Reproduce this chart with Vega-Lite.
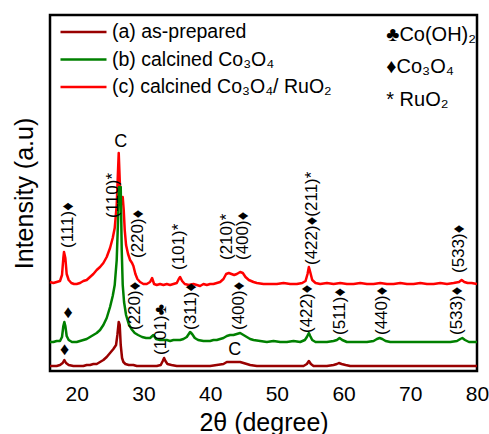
{
  "$schema": "https://vega.github.io/schema/vega-lite/v6.json",
  "width": 427,
  "height": 356,
  "autosize": {"type": "none"},
  "padding": {"left": 50, "top": 15, "right": 12, "bottom": 63},
  "background": "white",
  "config": {
    "view": {"stroke": "black", "strokeWidth": 2.5},
    "font": "Liberation Sans",
    "text": {"font": "Liberation Sans", "color": "black"}
  },
  "datasets": {
    "curves": [
      {"s":"c","x":16.0,"y":88},{"s":"c","x":16.5,"y":87},{"s":"c","x":17.0,"y":88},{"s":"c","x":17.5,"y":89},{"s":"c","x":17.8,"y":95},{"s":"c","x":18.0,"y":112},{"s":"c","x":18.1,"y":118},{"s":"c","x":18.3,"y":112},{"s":"c","x":18.5,"y":96},{"s":"c","x":18.8,"y":90},{"s":"c","x":19.2,"y":87},{"s":"c","x":19.6,"y":86},{"s":"c","x":20.0,"y":86},{"s":"c","x":20.5,"y":87},{"s":"c","x":21.0,"y":89},{"s":"c","x":21.5,"y":90},{"s":"c","x":22.0,"y":93},{"s":"c","x":22.5,"y":96},{"s":"c","x":23.0,"y":100},{"s":"c","x":23.5,"y":103},{"s":"c","x":24.0,"y":107},{"s":"c","x":24.5,"y":113},{"s":"c","x":25.0,"y":122},{"s":"c","x":25.4,"y":132},{"s":"c","x":25.7,"y":142},{"s":"c","x":26.0,"y":165},{"s":"c","x":26.2,"y":200},{"s":"c","x":26.3,"y":217},{"s":"c","x":26.45,"y":190},{"s":"c","x":26.6,"y":165},{"s":"c","x":26.75,"y":170},{"s":"c","x":26.9,"y":173},{"s":"c","x":27.05,"y":160},{"s":"c","x":27.2,"y":140},{"s":"c","x":27.4,"y":125},{"s":"c","x":27.7,"y":116},{"s":"c","x":28.0,"y":110},{"s":"c","x":28.3,"y":107},{"s":"c","x":28.5,"y":104},{"s":"c","x":28.8,"y":96},{"s":"c","x":29.1,"y":91},{"s":"c","x":29.5,"y":88},{"s":"c","x":30.0,"y":86},{"s":"c","x":30.5,"y":86},{"s":"c","x":31.0,"y":88},{"s":"c","x":31.3,"y":92},{"s":"c","x":31.6,"y":86},{"s":"c","x":32.0,"y":85},{"s":"c","x":32.5,"y":86},{"s":"c","x":33.0,"y":85},{"s":"c","x":33.5,"y":86},{"s":"c","x":34.0,"y":85},{"s":"c","x":34.5,"y":86},{"s":"c","x":35.0,"y":87},{"s":"c","x":35.3,"y":91},{"s":"c","x":35.5,"y":93},{"s":"c","x":35.8,"y":89},{"s":"c","x":36.2,"y":86},{"s":"c","x":36.8,"y":85},{"s":"c","x":37.5,"y":86},{"s":"c","x":38.0,"y":85},{"s":"c","x":38.5,"y":84},{"s":"c","x":39.0,"y":86},{"s":"c","x":39.5,"y":85},{"s":"c","x":40.0,"y":86},{"s":"c","x":40.5,"y":86},{"s":"c","x":41.0,"y":87},{"s":"c","x":41.5,"y":88},{"s":"c","x":42.0,"y":91},{"s":"c","x":42.4,"y":96},{"s":"c","x":42.8,"y":97},{"s":"c","x":43.2,"y":96},{"s":"c","x":43.6,"y":95},{"s":"c","x":44.0,"y":96},{"s":"c","x":44.5,"y":98},{"s":"c","x":44.9,"y":97},{"s":"c","x":45.3,"y":93},{"s":"c","x":45.8,"y":90},{"s":"c","x":46.5,"y":88},{"s":"c","x":47.0,"y":87},{"s":"c","x":48.0,"y":86},{"s":"c","x":49.0,"y":86},{"s":"c","x":50.0,"y":86},{"s":"c","x":51.0,"y":87},{"s":"c","x":52.0,"y":86},{"s":"c","x":53.0,"y":86},{"s":"c","x":53.8,"y":87},{"s":"c","x":54.3,"y":89},{"s":"c","x":54.6,"y":96},{"s":"c","x":54.8,"y":103},{"s":"c","x":55.0,"y":98},{"s":"c","x":55.3,"y":90},{"s":"c","x":55.8,"y":87},{"s":"c","x":56.5,"y":86},{"s":"c","x":57.5,"y":87},{"s":"c","x":58.5,"y":86},{"s":"c","x":59.5,"y":87},{"s":"c","x":60.5,"y":86},{"s":"c","x":61.5,"y":86},{"s":"c","x":62.5,"y":87},{"s":"c","x":63.5,"y":86},{"s":"c","x":64.5,"y":86},{"s":"c","x":65.5,"y":87},{"s":"c","x":66.5,"y":86},{"s":"c","x":67.5,"y":86},{"s":"c","x":68.5,"y":87},{"s":"c","x":69.5,"y":86},{"s":"c","x":70.5,"y":86},{"s":"c","x":71.5,"y":87},{"s":"c","x":72.5,"y":86},{"s":"c","x":73.5,"y":86},{"s":"c","x":74.5,"y":87},{"s":"c","x":75.5,"y":86},{"s":"c","x":76.5,"y":87},{"s":"c","x":77.3,"y":88},{"s":"c","x":77.7,"y":90},{"s":"c","x":78.1,"y":88},{"s":"c","x":78.6,"y":87},{"s":"c","x":79.2,"y":87},{"s":"c","x":80.0,"y":86},

      {"s":"b","x":16.0,"y":28},{"s":"b","x":16.5,"y":28},{"s":"b","x":17.0,"y":29},{"s":"b","x":17.5,"y":29},{"s":"b","x":17.8,"y":33},{"s":"b","x":18.0,"y":44},{"s":"b","x":18.15,"y":48},{"s":"b","x":18.3,"y":44},{"s":"b","x":18.5,"y":34},{"s":"b","x":18.8,"y":30},{"s":"b","x":19.3,"y":28},{"s":"b","x":20.0,"y":28},{"s":"b","x":20.5,"y":29},{"s":"b","x":21.0,"y":30},{"s":"b","x":21.5,"y":31},{"s":"b","x":22.0,"y":33},{"s":"b","x":22.5,"y":35},{"s":"b","x":23.0,"y":37},{"s":"b","x":23.5,"y":40},{"s":"b","x":24.0,"y":45},{"s":"b","x":24.5,"y":52},{"s":"b","x":25.0,"y":63},{"s":"b","x":25.4,"y":74},{"s":"b","x":25.7,"y":85},{"s":"b","x":26.0,"y":110},{"s":"b","x":26.2,"y":150},{"s":"b","x":26.35,"y":183},{"s":"b","x":26.5,"y":175},{"s":"b","x":26.6,"y":183},{"s":"b","x":26.75,"y":120},{"s":"b","x":26.9,"y":85},{"s":"b","x":27.1,"y":68},{"s":"b","x":27.4,"y":55},{"s":"b","x":27.8,"y":46},{"s":"b","x":28.2,"y":41},{"s":"b","x":28.7,"y":37},{"s":"b","x":29.2,"y":35},{"s":"b","x":29.8,"y":33},{"s":"b","x":30.4,"y":32},{"s":"b","x":31.0,"y":32},{"s":"b","x":31.5,"y":35},{"s":"b","x":31.9,"y":31},{"s":"b","x":32.5,"y":30},{"s":"b","x":33.0,"y":30},{"s":"b","x":33.5,"y":30},{"s":"b","x":34.0,"y":29},{"s":"b","x":34.5,"y":30},{"s":"b","x":35.0,"y":30},{"s":"b","x":35.5,"y":30},{"s":"b","x":36.0,"y":31},{"s":"b","x":36.5,"y":33},{"s":"b","x":36.8,"y":36},{"s":"b","x":37.0,"y":38},{"s":"b","x":37.3,"y":36},{"s":"b","x":37.7,"y":32},{"s":"b","x":38.2,"y":30},{"s":"b","x":39.0,"y":29},{"s":"b","x":39.5,"y":29},{"s":"b","x":40.0,"y":29},{"s":"b","x":40.5,"y":30},{"s":"b","x":41.0,"y":30},{"s":"b","x":41.5,"y":31},{"s":"b","x":42.0,"y":32},{"s":"b","x":42.5,"y":34},{"s":"b","x":43.0,"y":35},{"s":"b","x":43.5,"y":35},{"s":"b","x":44.0,"y":36},{"s":"b","x":44.5,"y":37},{"s":"b","x":45.0,"y":35},{"s":"b","x":45.5,"y":33},{"s":"b","x":46.0,"y":31},{"s":"b","x":46.5,"y":30},{"s":"b","x":47.5,"y":29},{"s":"b","x":48.5,"y":28},{"s":"b","x":49.5,"y":29},{"s":"b","x":50.5,"y":28},{"s":"b","x":51.5,"y":28},{"s":"b","x":52.5,"y":29},{"s":"b","x":53.5,"y":28},{"s":"b","x":54.2,"y":30},{"s":"b","x":54.5,"y":33},{"s":"b","x":54.8,"y":37},{"s":"b","x":55.0,"y":34},{"s":"b","x":55.3,"y":30},{"s":"b","x":55.8,"y":28},{"s":"b","x":56.5,"y":28},{"s":"b","x":57.5,"y":28},{"s":"b","x":58.5,"y":29},{"s":"b","x":59.0,"y":30},{"s":"b","x":59.4,"y":32},{"s":"b","x":59.8,"y":30},{"s":"b","x":60.5,"y":28},{"s":"b","x":61.5,"y":28},{"s":"b","x":62.5,"y":28},{"s":"b","x":63.5,"y":28},{"s":"b","x":64.5,"y":29},{"s":"b","x":65.0,"y":31},{"s":"b","x":65.4,"y":32},{"s":"b","x":65.8,"y":31},{"s":"b","x":66.3,"y":29},{"s":"b","x":67.0,"y":28},{"s":"b","x":68.0,"y":28},{"s":"b","x":69.0,"y":28},{"s":"b","x":70.0,"y":28},{"s":"b","x":71.0,"y":28},{"s":"b","x":72.0,"y":28},{"s":"b","x":73.0,"y":28},{"s":"b","x":74.0,"y":28},{"s":"b","x":75.0,"y":28},{"s":"b","x":76.0,"y":28},{"s":"b","x":77.0,"y":29},{"s":"b","x":77.5,"y":31},{"s":"b","x":77.8,"y":32},{"s":"b","x":78.2,"y":30},{"s":"b","x":78.8,"y":28},{"s":"b","x":79.5,"y":28},{"s":"b","x":80.0,"y":28},

      {"s":"a","x":16.0,"y":4},{"s":"a","x":16.5,"y":4},{"s":"a","x":17.0,"y":4},{"s":"a","x":17.5,"y":5},{"s":"a","x":17.9,"y":7},{"s":"a","x":18.15,"y":10},{"s":"a","x":18.4,"y":7},{"s":"a","x":18.8,"y":5},{"s":"a","x":19.5,"y":4},{"s":"a","x":20.0,"y":4},{"s":"a","x":20.5,"y":4},{"s":"a","x":21.0,"y":4},{"s":"a","x":21.5,"y":5},{"s":"a","x":22.0,"y":5},{"s":"a","x":22.5,"y":6},{"s":"a","x":23.0,"y":6},{"s":"a","x":23.5,"y":8},{"s":"a","x":24.0,"y":10},{"s":"a","x":24.5,"y":13},{"s":"a","x":25.0,"y":17},{"s":"a","x":25.5,"y":21},{"s":"a","x":25.9,"y":25},{"s":"a","x":26.1,"y":35},{"s":"a","x":26.3,"y":48},{"s":"a","x":26.45,"y":45},{"s":"a","x":26.6,"y":25},{"s":"a","x":26.8,"y":12},{"s":"a","x":27.0,"y":8},{"s":"a","x":27.3,"y":6},{"s":"a","x":27.8,"y":5},{"s":"a","x":28.5,"y":5},{"s":"a","x":29.0,"y":4},{"s":"a","x":30.0,"y":4},{"s":"a","x":31.0,"y":4},{"s":"a","x":32.0,"y":4},{"s":"a","x":32.6,"y":5},{"s":"a","x":32.9,"y":9},{"s":"a","x":33.1,"y":12},{"s":"a","x":33.3,"y":9},{"s":"a","x":33.6,"y":6},{"s":"a","x":34.2,"y":5},{"s":"a","x":35.0,"y":4},{"s":"a","x":36.0,"y":4},{"s":"a","x":37.0,"y":4},{"s":"a","x":38.0,"y":4},{"s":"a","x":39.0,"y":4},{"s":"a","x":40.0,"y":4},{"s":"a","x":41.0,"y":5},{"s":"a","x":42.0,"y":6},{"s":"a","x":42.5,"y":8},{"s":"a","x":43.0,"y":8},{"s":"a","x":43.5,"y":8},{"s":"a","x":44.0,"y":8},{"s":"a","x":44.5,"y":8},{"s":"a","x":45.0,"y":7},{"s":"a","x":45.5,"y":6},{"s":"a","x":46.0,"y":5},{"s":"a","x":47.0,"y":4},{"s":"a","x":48.0,"y":4},{"s":"a","x":49.0,"y":4},{"s":"a","x":50.0,"y":4},{"s":"a","x":51.0,"y":4},{"s":"a","x":52.0,"y":4},{"s":"a","x":53.0,"y":4},{"s":"a","x":54.0,"y":4},{"s":"a","x":54.5,"y":6},{"s":"a","x":54.8,"y":9},{"s":"a","x":55.1,"y":6},{"s":"a","x":55.5,"y":4},{"s":"a","x":56.5,"y":4},{"s":"a","x":57.5,"y":4},{"s":"a","x":58.5,"y":5},{"s":"a","x":59.0,"y":6},{"s":"a","x":59.3,"y":7},{"s":"a","x":59.7,"y":6},{"s":"a","x":60.3,"y":5},{"s":"a","x":61.0,"y":4},{"s":"a","x":62.0,"y":4},{"s":"a","x":63.0,"y":4},{"s":"a","x":64.0,"y":4},{"s":"a","x":65.0,"y":4},{"s":"a","x":66.0,"y":4},{"s":"a","x":67.0,"y":4},{"s":"a","x":68.0,"y":4},{"s":"a","x":69.0,"y":4},{"s":"a","x":70.0,"y":4},{"s":"a","x":71.0,"y":4},{"s":"a","x":72.0,"y":4},{"s":"a","x":73.0,"y":4},{"s":"a","x":74.0,"y":4},{"s":"a","x":75.0,"y":4},{"s":"a","x":76.0,"y":4},{"s":"a","x":77.0,"y":4},{"s":"a","x":78.0,"y":4},{"s":"a","x":79.0,"y":4},{"s":"a","x":80.0,"y":4}
    ],
    "ticks": [
      {"x":20},{"x":25},{"x":30},{"x":35},{"x":40},{"x":45},{"x":50},{"x":55},{"x":60},{"x":65},{"x":70},{"x":75}
    ],
    "rot": [
      {"t":"(111)♦","x":18.65,"y":122},
      {"t":"(110)*","x":25.4,"y":152},
      {"t":"(220)♦","x":29.15,"y":112},
      {"t":"(101)*","x":35.4,"y":100},
      {"t":"(210)*","x":42.5,"y":110},
      {"t":"(400)♦","x":44.9,"y":110},
      {"t":"(422)♦(211)*","x":55.2,"y":105},
      {"t":"(533)♦","x":77.3,"y":97},
      {"t":"(220)♦","x":28.7,"y":40},
      {"t":"(101)♣","x":32.7,"y":15},
      {"t":"(311)♦","x":37.1,"y":40},
      {"t":"(400)♦","x":44.4,"y":40},
      {"t":"(422)♦","x":54.5,"y":37},
      {"t":"(511)♦","x":59.4,"y":35},
      {"t":"(440)♦","x":65.7,"y":35},
      {"t":"(533)♦","x":77.0,"y":35}
    ],
    "up": [
      {"t":"♦","x":18.7,"y":57},
      {"t":"♦","x":18.2,"y":20},
      {"t":"C","x":43.7,"y":20},
      {"t":"C","x":26.6,"y":228}
    ],
    "sym": [
      {"t":"♣Co(OH)₂","x":66.4,"y":335},
      {"t":"♦Co₃O₄","x":66.4,"y":303},
      {"t":"* RuO₂","x":66.4,"y":270}
    ]
  },
  "encoding": {
    "x": {
      "field": "x", "type": "quantitative",
      "scale": {"domain": [16, 80], "nice": false, "zero": false},
      "axis": {
        "title": "2θ (degree)",
        "values": [20, 30, 40, 50, 60, 70, 80],
        "domain": false, "grid": false, "ticks": false,
        "labelFontSize": 21, "labelColor": "black", "labelPadding": 12,
        "labelFlush": false, "labelOverlap": false,
        "titleFontSize": 25, "titleFontWeight": "normal", "titleColor": "black", "titlePadding": 6
      }
    },
    "y": {
      "field": "y", "type": "quantitative",
      "scale": {"domain": [-1, 355], "nice": false, "zero": false},
      "axis": {
        "title": "Intensity (a.u)",
        "ticks": false, "labels": false, "domain": false, "grid": false,
        "titleFontSize": 25, "titleFontWeight": "normal", "titleColor": "black", "titlePadding": 13
      }
    }
  },
  "layer": [
    {
      "data": {"name": "ticks"},
      "mark": {"type": "rule", "color": "black", "strokeWidth": 2},
      "encoding": {
        "y": {"datum": -1, "type": "quantitative"},
        "y2": {"datum": 5}
      }
    },
    {
      "data": {"name": "curves"},
      "mark": {"type": "line", "strokeJoin": "round"},
      "encoding": {
        "color": {
          "field": "s", "type": "nominal",
          "scale": {"domain": ["a", "b", "c"], "range": ["#990000", "#008000", "#ff0000"]},
          "legend": {
            "orient": "none", "legendX": 9, "legendY": 7, "title": null,
            "symbolType": "stroke", "symbolSize": 2116, "symbolStrokeWidth": 3,
            "clipHeight": 20,
            "labelFontSize": 19.5, "labelOffset": 4, "rowPadding": 7.5, "padding": 0,
            "labelColor": "black", "labelLimit": 400,
            "labelExpr": "datum.label == 'a' ? '(a) as-prepared' : datum.label == 'b' ? '(b) calcined Co₃O₄' : '(c) calcined Co₃O₄/ RuO₂'"
          }
        },
        "strokeWidth": {
          "field": "s", "type": "nominal",
          "scale": {"domain": ["a", "b", "c"], "range": [2.5, 2.5, 1.5]}
        }
      }
    },
    {
      "data": {"name": "rot"},
      "mark": {"type": "text", "angle": 270, "align": "left", "baseline": "middle", "fontSize": 17, "color": "black"},
      "encoding": {"text": {"field": "t"}}
    },
    {
      "data": {"name": "up"},
      "mark": {"type": "text", "align": "center", "baseline": "middle", "fontSize": 18, "color": "black"},
      "encoding": {"text": {"field": "t"}}
    },
    {
      "data": {"name": "sym"},
      "mark": {"type": "text", "align": "left", "baseline": "middle", "fontSize": 20, "color": "black"},
      "encoding": {"text": {"field": "t"}}
    }
  ]
}
